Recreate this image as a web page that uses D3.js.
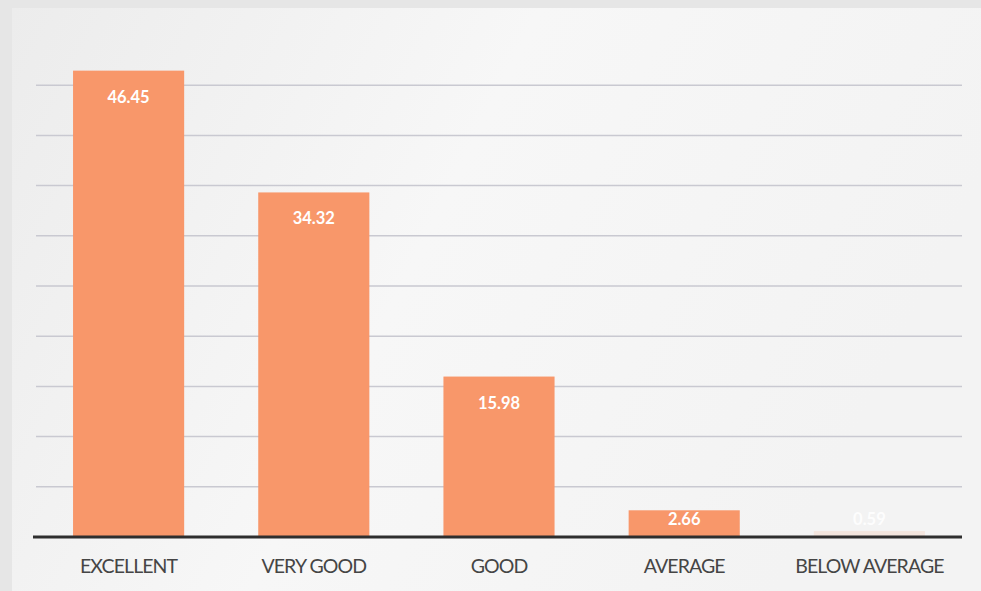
<!DOCTYPE html>
<html><head><meta charset="utf-8">
<script src="https://cdn.jsdelivr.net/npm/d3@7"></script>
<style>html,body{margin:0;padding:0;background:#e9e9e9;}svg{display:block;}</style>
</head><body>
<script>
const categories = ["EXCELLENT","VERY GOOD","GOOD","AVERAGE","BELOW AVERAGE"];
const values = [46.45, 34.32, 15.98, 2.66, 0.59];
const yTicks = [5,10,15,20,25,30,35,40,45];

(function(){
const W = 981, H = 591;
const svg = d3.select("body").append("svg").attr("width", W).attr("height", H);
const defs = svg.append("defs");
const g1 = defs.append("linearGradient").attr("id","bg").attr("x1","0").attr("x2","1").attr("y1","0").attr("y2","0.3");
g1.append("stop").attr("offset","0").attr("stop-color","#ececec");
g1.append("stop").attr("offset","0.5").attr("stop-color","#f7f7f7");
g1.append("stop").attr("offset","1").attr("stop-color","#f3f3f3");
svg.append("rect").attr("width",W).attr("height",H).attr("fill","#e6e6e6");
svg.append("rect").attr("x",12).attr("y",8).attr("width",W-12).attr("height",H-8).attr("fill","url(#bg)");

const mLeft = 36, mRight = 962, mTop = 35, mBottom = 537;
const x = d3.scaleBand().domain(categories).range([mLeft, mRight]).paddingInner(0.4).paddingOuter(0.2);
const y = d3.scaleLinear().domain([0, 50]).range([mBottom, mTop]);

svg.append("g").selectAll("line").data(yTicks).join("line")
  .attr("x1", mLeft).attr("x2", mRight)
  .attr("y1", d => y(d)).attr("y2", d => y(d))
  .attr("stroke", "#c9c9d1").attr("stroke-width", 1.5);

svg.append("g").selectAll("rect").data(values).join("rect")
  .attr("x", (d,i) => x(categories[i]))
  .attr("y", d => y(d))
  .attr("width", x.bandwidth())
  .attr("height", d => mBottom - y(d))
  .attr("fill", "#f8976a")
  .attr("fill-opacity", d => d < 1 ? 0.15 : 1);

svg.append("g").selectAll("text").data(values).join("text")
  .attr("x", (d,i) => x(categories[i]) + x.bandwidth()/2)
  .attr("y", d => Math.min(y(d) + 32, mBottom - 12))
  .attr("text-anchor","middle")
  .attr("font-family","Lato, 'Open Sans', sans-serif")
  .attr("font-weight","bold")
  .attr("font-size", 16.5)
  .attr("fill","#ffffff")
  .attr("fill-opacity", d => d < 1 ? 0.85 : 1)
  .text(d => d.toFixed(2));

const xAxis = d3.axisBottom(x).tickSize(0).tickPadding(22);
const ax = svg.append("g").attr("transform", `translate(0,${mBottom})`).call(xAxis);
ax.select(".domain").attr("stroke","#2e2e2e").attr("stroke-width",3).attr("d", `M${mLeft-3},0H${mRight}`);
ax.selectAll("text")
  .attr("font-family","Lato, 'Open Sans', sans-serif")
  .attr("font-size", 19.5)
  .attr("fill","#454545")
  .attr("letter-spacing","-0.9px");
})();
</script>
</body></html>
